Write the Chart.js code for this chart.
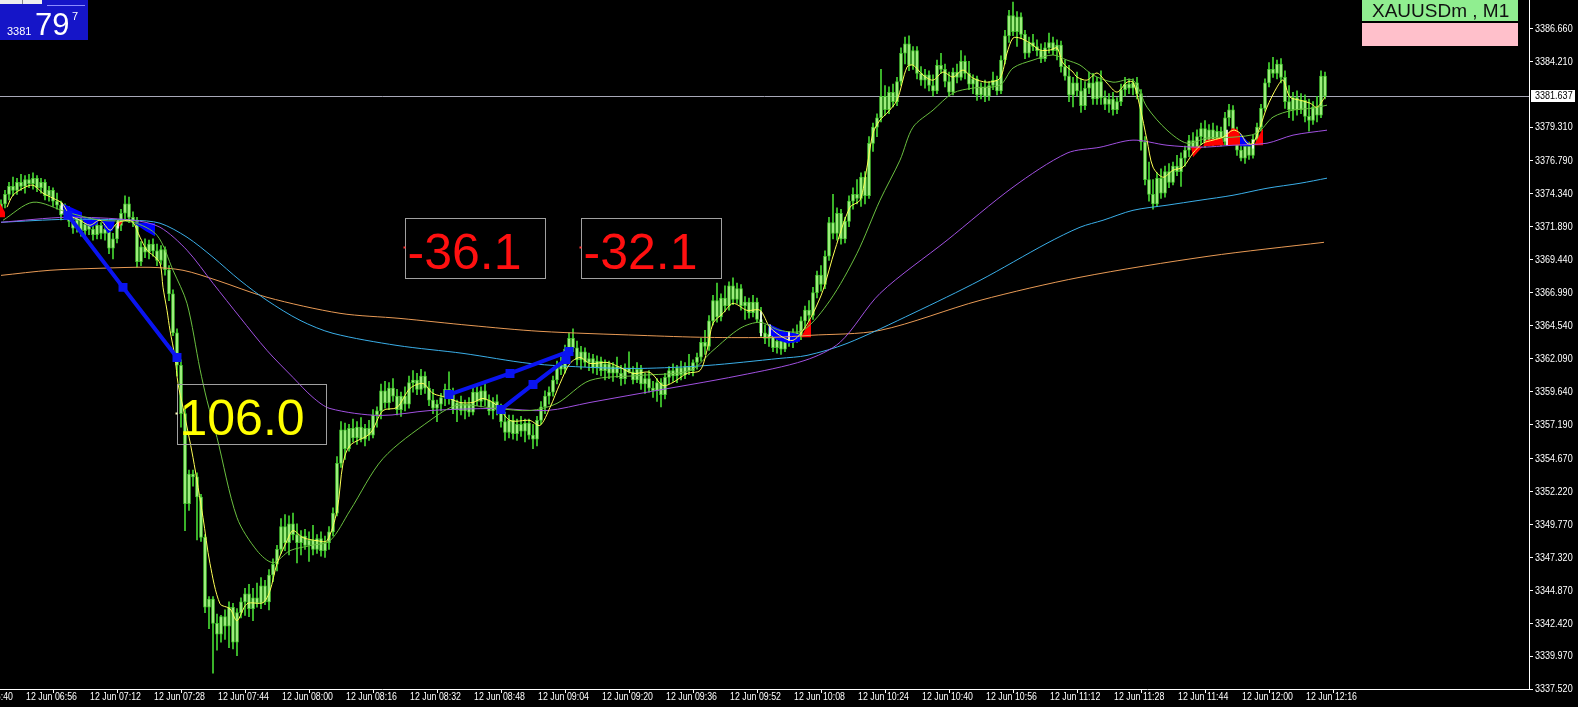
<!DOCTYPE html>
<html>
<head>
<meta charset="utf-8">
<style>
  html, body { margin: 0; padding: 0; background: #000; overflow: hidden; }
  canvas { display: block; }
</style>
<script src="https://cdn.jsdelivr.net/npm/chart.js@4"></script>
</head>
<body>
<canvas id="mt4" width="1578" height="707"></canvas>
<script>
// XAUUSDm M1, 12 Jun 06:51 .. 12:22 (one bar per minute)
const startMinute = 6 * 60 + 51;

const opens = [
  3373.1,3373.6,3374.3,3374.9,3374.6,3375.2,3374.9,3375.4,3375.1,3375.5,
  3374.8,3375.2,3374.2,3374.6,3373.8,3373.5,3372.8,3373.2,3372.3,3371.8,
  3372.4,3371.6,3372.1,3371.7,3371.3,3372.0,3371.4,3371.7,3370.3,3371.0,
  3372.0,3372.9,3373.6,3372.6,3372.3,3369.3,3370.4,3370.0,3370.6,3370.1,
  3369.4,3370.2,3368.7,3366.9,3364.0,3361.6,3358.0,3351.3,3353.5,3353.3,
  3351.8,3348.8,3343.6,3344.2,3342.4,3341.6,3342.9,3342.2,3343.6,3341.0,
  3343.2,3344.0,3344.6,3343.5,3344.3,3343.9,3345.2,3344.0,3346.0,3346.8,
  3347.9,3349.6,3348.4,3349.8,3349.0,3348.4,3348.9,3348.2,3348.6,3347.9,
  3348.7,3347.8,3348.4,3349.2,3350.6,3354.3,3356.8,3355.4,3356.9,3356.2,
  3357.0,3356.1,3356.9,3356.4,3357.9,3358.2,3359.7,3358.8,3359.9,3359.3,
  3358.3,3359.3,3358.7,3360.3,3360.5,3359.8,3360.8,3359.9,3359.0,3358.4,
  3358.7,3359.2,3359.8,3359.4,3358.3,3358.8,3358.2,3358.7,3358.1,3359.6,
  3358.9,3359.7,3359.0,3358.2,3358.9,3358.3,3357.4,3356.6,3357.5,3356.5,
  3357.2,3356.7,3357.3,3356.4,3356.1,3357.5,3358.5,3359.3,3359.6,3360.5,
  3361.6,3361.3,3362.8,3363.6,3362.9,3362.0,3362.6,3361.8,3362.1,3361.4,
  3361.9,3361.2,3361.7,3361.0,3361.5,3361.0,3360.6,3361.4,3361.1,3360.5,
  3361.3,3360.2,3360.6,3359.9,3359.7,3360.3,3359.4,3360.7,3361.2,3360.8,
  3361.4,3360.9,3361.5,3361.2,3361.8,3362.2,3363.3,3363.0,3364.9,3366.4,
  3365.2,3366.6,3366.0,3367.5,3366.5,3367.3,3366.0,3366.3,3365.5,3366.3,
  3365.0,3364.0,3363.6,3363.9,3362.9,3363.4,3362.8,3363.5,3363.3,3364.0,
  3363.7,3364.9,3365.7,3365.3,3367.0,3368.3,3367.6,3369.7,3372.2,3371.4,
  3372.9,3371.0,3372.3,3373.8,3374.3,3374.0,3375.6,3374.2,3378.1,3379.3,
  3380.0,3381.6,3380.6,3381.9,3381.2,3382.7,3384.8,3385.5,3383.9,3385.0,
  3383.3,3382.8,3383.2,3382.4,3382.0,3383.9,3383.6,3382.7,3381.9,3383.4,
  3383.0,3384.2,3383.3,3382.5,3382.9,3381.7,3382.3,3381.6,3382.4,3382.8,
  3382.0,3384.3,3386.1,3387.6,3386.4,3387.5,3386.2,3384.8,3385.6,3385.3,
  3385.0,3384.4,3385.2,3385.6,3385.0,3385.4,3383.8,3383.1,3381.7,3382.6,
  3382.0,3380.9,3382.2,3382.6,3381.4,3382.7,3381.5,3381.0,3381.4,3380.6,
  3381.2,3382.1,3382.5,3382.2,3382.6,3381.8,3378.2,3375.4,3374.3,3373.6,
  3375.5,3374.4,3376.0,3375.2,3376.4,3376.0,3377.0,3377.6,3378.3,3377.8,
  3378.6,3379.2,3378.2,3379.1,3378.3,3379.0,3378.2,3380.0,3380.6,3378.9,
  3377.6,3377.0,3377.9,3377.2,3378.4,3379.3,3380.7,3382.6,3383.6,3383.3,
  3384.0,3383.0,3381.2,3380.6,3381.5,3380.6,3381.3,3380.1,3379.8,3380.8,
  3380.2,3383.1
];
const highs = [
  3373.9,3374.6,3375.2,3375.6,3375.5,3375.8,3375.7,3375.8,3375.9,3375.7,
  3375.5,3375.4,3374.9,3374.8,3374.4,3373.8,3373.6,3373.4,3373.0,3372.8,
  3372.7,3372.5,3372.6,3372.4,3372.3,3372.2,3372.0,3371.9,3371.4,3372.3,
  3373.2,3374.2,3374.1,3373.0,3372.6,3370.8,3371.0,3370.9,3371.0,3370.6,
  3370.5,3370.4,3369.0,3367.2,3364.3,3362.0,3358.3,3353.8,3353.8,3353.6,
  3352.0,3349.0,3344.4,3344.4,3343.1,3343.0,3343.4,3344.0,3343.9,3343.5,
  3344.3,3345.0,3345.3,3345.0,3345.4,3345.8,3345.6,3346.4,3347.2,3348.2,
  3350.2,3350.5,3350.4,3350.6,3349.8,3349.3,3349.4,3349.2,3349.7,3349.0,
  3349.2,3348.9,3349.6,3351.0,3354.8,3357.4,3357.3,3357.2,3357.6,3357.4,
  3357.7,3357.2,3357.5,3358.3,3358.5,3360.2,3360.4,3360.3,3360.6,3359.8,
  3359.6,3360.0,3360.8,3361.2,3361.0,3361.3,3361.1,3360.4,3359.8,3359.0,
  3359.5,3360.2,3361.1,3359.9,3359.0,3359.3,3359.0,3359.2,3359.9,3360.1,
  3360.0,3360.2,3359.4,3359.2,3359.4,3358.7,3358.1,3357.9,3357.9,3357.6,
  3357.8,3357.6,3357.6,3357.2,3357.8,3358.9,3359.7,3360.0,3360.8,3361.9,
  3362.2,3363.1,3364.0,3364.3,3363.4,3363.0,3362.9,3362.5,3362.4,3362.3,
  3362.2,3362.0,3361.9,3361.8,3362.2,3361.6,3361.7,3362.6,3361.5,3361.8,
  3361.6,3361.0,3361.2,3360.4,3360.6,3360.6,3361.0,3361.5,3361.7,3361.6,
  3361.9,3361.8,3362.4,3362.0,3362.5,3363.6,3364.2,3365.3,3366.8,3367.7,
  3366.9,3367.5,3367.8,3368.1,3367.7,3367.6,3366.7,3366.6,3366.8,3366.6,
  3365.9,3364.6,3364.4,3364.2,3363.8,3363.7,3363.8,3364.0,3364.3,3364.6,
  3365.2,3366.0,3366.4,3367.4,3368.6,3369.0,3370.1,3372.6,3374.3,3373.3,
  3373.2,3372.6,3374.2,3374.8,3375.4,3375.9,3376.0,3378.6,3379.6,3380.3,
  3383.6,3382.4,3382.3,3382.5,3383.0,3385.2,3386.0,3386.1,3385.3,3385.3,
  3383.8,3383.6,3383.5,3383.2,3384.3,3384.8,3384.0,3383.4,3383.7,3384.0,
  3385.0,3384.6,3384.2,3383.2,3383.1,3382.6,3382.8,3382.7,3383.4,3383.1,
  3384.6,3386.5,3388.0,3388.6,3387.9,3387.8,3386.5,3386.0,3386.2,3385.8,
  3385.5,3385.6,3386.3,3386.0,3385.8,3385.7,3384.3,3383.9,3383.0,3383.4,
  3382.9,3382.7,3383.4,3383.3,3383.0,3383.5,3382.0,3381.8,3381.9,3381.5,
  3382.5,3383.0,3382.9,3382.9,3383.0,3382.1,3378.6,3376.7,3375.4,3375.9,
  3376.2,3376.4,3376.6,3376.7,3377.2,3377.4,3377.9,3378.7,3378.9,3379.1,
  3379.6,3379.8,3379.5,3379.6,3379.4,3379.3,3380.4,3381.0,3380.9,3379.3,
  3378.5,3378.3,3378.2,3378.7,3379.6,3381.0,3382.9,3384.1,3384.5,3384.3,
  3384.4,3383.5,3382.4,3381.9,3382.0,3381.8,3381.7,3381.4,3381.2,3381.6,
  3383.5,3383.4
];
const lows = [
  3372.8,3373.3,3373.9,3374.2,3374.3,3374.6,3374.4,3374.8,3374.7,3374.5,
  3374.4,3373.9,3373.8,3373.4,3373.2,3372.4,3372.5,3371.9,3371.4,3371.5,
  3371.2,3371.0,3371.3,3370.9,3371.0,3371.0,3370.9,3369.9,3369.5,3370.7,
  3371.6,3372.4,3372.2,3371.9,3368.9,3369.0,3369.6,3369.5,3369.7,3369.0,
  3369.1,3368.3,3366.4,3363.8,3360.8,3357.0,3349.3,3350.8,3352.6,3348.6,
  3348.5,3343.2,3342.0,3338.7,3340.4,3341.0,3341.2,3340.6,3340.5,3340.0,
  3342.8,3343.0,3342.9,3342.6,3343.6,3343.5,3343.8,3343.4,3345.5,3346.3,
  3347.6,3347.8,3347.5,3348.6,3346.9,3347.5,3347.9,3347.0,3347.5,3347.6,
  3347.4,3347.3,3347.9,3348.9,3350.4,3354.0,3354.6,3355.2,3355.9,3355.7,
  3355.9,3355.6,3356.0,3356.2,3357.0,3357.6,3358.4,3358.3,3358.9,3357.9,
  3357.8,3358.2,3358.4,3359.6,3359.4,3359.4,3359.5,3358.6,3358.0,3357.4,
  3358.2,3358.6,3358.7,3358.0,3357.4,3357.9,3357.6,3357.8,3357.9,3358.6,
  3358.5,3358.6,3357.9,3357.6,3357.9,3357.0,3356.0,3356.2,3356.1,3356.0,
  3356.3,3355.9,3356.1,3355.4,3355.6,3357.2,3358.0,3358.7,3359.3,3360.2,
  3360.9,3361.0,3362.3,3362.6,3361.6,3361.3,3361.5,3361.2,3361.0,3360.9,
  3360.8,3360.5,3360.6,3360.4,3360.7,3360.1,3360.2,3361.0,3360.2,3360.3,
  3359.8,3359.5,3359.6,3359.2,3358.9,3358.5,3359.1,3360.2,3360.4,3360.3,
  3360.5,3360.6,3360.9,3360.8,3361.3,3361.9,3362.4,3362.7,3364.6,3364.8,
  3364.9,3365.6,3365.7,3366.1,3366.2,3365.7,3365.0,3365.1,3365.2,3364.8,
  3363.7,3363.2,3363.0,3362.6,3362.5,3362.4,3362.6,3363.0,3362.9,3363.3,
  3363.5,3364.4,3364.9,3365.0,3366.6,3367.1,3367.3,3369.4,3371.0,3370.9,
  3370.6,3370.7,3371.9,3373.2,3373.6,3373.4,3373.6,3374.0,3377.5,3378.6,
  3379.7,3380.2,3380.3,3380.8,3380.9,3382.4,3384.0,3383.5,3383.6,3382.9,
  3382.4,3382.2,3382.0,3381.6,3381.8,3383.3,3382.3,3381.6,3381.7,3382.6,
  3382.8,3382.9,3382.1,3381.8,3381.3,3381.4,3381.2,3381.3,3382.1,3381.7,
  3381.8,3384.0,3385.6,3386.1,3385.3,3385.9,3384.4,3384.5,3385.0,3384.6,
  3384.1,3384.2,3384.8,3384.7,3384.3,3383.4,3382.8,3381.2,3380.8,3381.6,
  3380.4,3380.6,3381.8,3381.0,3381.0,3381.0,3380.6,3380.4,3380.2,3380.3,
  3380.9,3381.6,3381.8,3381.7,3381.4,3377.6,3375.0,3373.8,3373.2,3373.4,
  3374.0,3374.1,3374.8,3375.0,3375.7,3374.9,3376.4,3377.1,3377.3,3377.5,
  3378.0,3377.8,3377.9,3377.9,3378.0,3377.9,3378.0,3379.4,3378.5,3377.2,
  3376.8,3376.6,3376.9,3377.0,3378.1,3379.0,3380.5,3382.3,3383.0,3382.9,
  3382.6,3380.7,3380.0,3379.8,3380.2,3380.3,3379.7,3379.0,3379.5,3379.7,
  3380.0,3381.4
];
const closes = [
  3373.6,3374.3,3374.9,3374.6,3375.2,3374.9,3375.4,3375.1,3375.5,3374.8,
  3375.2,3374.2,3374.6,3373.8,3373.5,3372.8,3373.2,3372.3,3371.8,3372.4,
  3371.6,3372.1,3371.7,3371.3,3372.0,3371.4,3371.7,3370.3,3371.0,3372.0,
  3372.9,3373.6,3372.6,3372.3,3369.3,3370.4,3370.0,3370.6,3370.1,3369.4,
  3370.2,3368.7,3366.9,3364.0,3361.6,3358.0,3351.3,3353.5,3353.3,3351.8,
  3348.8,3343.6,3344.2,3342.4,3341.6,3342.9,3342.2,3343.6,3341.0,3343.2,
  3344.0,3344.6,3343.5,3344.3,3343.9,3345.2,3344.0,3346.0,3346.8,3347.9,
  3349.6,3348.4,3349.8,3349.0,3348.4,3348.9,3348.2,3348.6,3347.9,3348.7,
  3347.8,3348.4,3349.2,3350.6,3354.3,3356.8,3355.4,3356.9,3356.2,3357.0,
  3356.1,3356.9,3356.4,3357.9,3358.2,3359.7,3358.8,3359.9,3359.3,3358.3,
  3359.3,3358.7,3360.3,3360.5,3359.8,3360.8,3359.9,3359.0,3358.4,3358.7,
  3359.2,3359.8,3359.4,3358.3,3358.8,3358.2,3358.7,3358.1,3359.6,3358.9,
  3359.7,3359.0,3358.2,3358.9,3358.3,3357.4,3356.6,3357.5,3356.5,3357.2,
  3356.7,3357.3,3356.4,3356.1,3357.5,3358.5,3359.3,3359.6,3360.5,3361.6,
  3361.3,3362.8,3363.6,3362.9,3362.0,3362.6,3361.8,3362.1,3361.4,3361.9,
  3361.2,3361.7,3361.0,3361.5,3361.0,3360.6,3361.4,3361.1,3360.5,3361.3,
  3360.2,3360.6,3359.9,3359.7,3360.3,3359.4,3360.7,3361.2,3360.8,3361.4,
  3360.9,3361.5,3361.2,3361.8,3362.2,3363.3,3363.0,3364.9,3366.4,3365.2,
  3366.6,3366.0,3367.5,3366.5,3367.3,3366.0,3366.3,3365.5,3366.3,3365.0,
  3364.0,3363.6,3363.9,3362.9,3363.4,3362.8,3363.5,3363.3,3364.0,3363.7,
  3364.9,3365.7,3365.3,3367.0,3368.3,3367.6,3369.7,3372.2,3371.4,3372.9,
  3371.0,3372.3,3373.8,3374.3,3374.0,3375.6,3374.2,3378.1,3379.3,3380.0,
  3381.6,3380.6,3381.9,3381.2,3382.7,3384.8,3385.5,3383.9,3385.0,3383.3,
  3382.8,3383.2,3382.4,3382.0,3383.9,3383.6,3382.7,3381.9,3383.4,3383.0,
  3384.2,3383.3,3382.5,3382.9,3381.7,3382.3,3381.6,3382.4,3382.8,3382.0,
  3384.3,3386.1,3387.6,3386.4,3387.5,3386.2,3384.8,3385.6,3385.3,3385.0,
  3384.4,3385.2,3385.6,3385.0,3385.4,3383.8,3383.1,3381.7,3382.6,3382.0,
  3380.9,3382.2,3382.6,3381.4,3382.7,3381.5,3381.0,3381.4,3380.6,3381.2,
  3382.1,3382.5,3382.2,3382.6,3381.8,3378.2,3375.4,3374.3,3373.6,3375.5,
  3374.4,3376.0,3375.2,3376.4,3376.0,3377.0,3377.6,3378.3,3377.8,3378.6,
  3379.2,3378.2,3379.1,3378.3,3379.0,3378.2,3380.0,3380.6,3378.9,3377.6,
  3377.0,3377.9,3377.2,3378.4,3379.3,3380.7,3382.6,3383.6,3383.3,3384.0,
  3383.0,3381.2,3380.6,3381.5,3380.6,3381.3,3380.1,3379.8,3380.8,3380.2,
  3383.1,3381.6
];

// moving averages: [bar index, price]
const maFast = [
  [1.5,3373.35],[3,3374.24],[5.5,3374.76],[8,3374.99],[10.5,3374.39],[13,3374.02],[15.25,3373.65],
  [17.25,3372.75],[19.75,3372.38],[22.25,3372.01],[24.75,3372.38],[27.25,3371.64],[29,3372.16],
  [31.5,3372.38],[33,3372.23],[34.75,3371.12],[36.5,3370.15],[38,3369.77],[39.75,3369.18],
  [40.5,3367.39],[41.5,3365.68],[42.25,3364.19],[43.5,3362.18],[44.25,3360.24],[45.5,3358.46],
  [48,3354.73],[50.5,3350.27],[52.25,3346.84],[54.75,3343.86],[57.25,3343.49],[59,3342.60],
  [61.5,3343.86],[65.5,3343.94],[67.25,3344.83],[69,3346.84],[71.5,3348.55],[73,3349.30],
  [75.5,3348.78],[79,3348.55],[81.5,3348.55],[84,3350.79],[85.5,3354.29],[87.25,3355.63],
  [92.25,3356.52],[95.5,3358.23],[99,3358.46],[102.25,3359.87],[105.5,3360.24],[108,3359.50],
  [111.5,3359.20],[114.75,3358.83],[118,3358.83],[120.5,3359.13],[124,3358.61],[127.25,3357.49],
  [132.25,3357.49],[134.75,3357.12],[137.25,3358.46],[139.75,3360.24],[142.25,3361.73],
  [144.75,3362.18],[147.25,3361.73],[151.5,3361.81],[154.75,3361.44],[158,3360.99],[162.25,3361.06],
  [165.5,3360.09],[168,3360.32],[171.5,3360.99],[174.75,3361.21],[176.5,3362.70],[178,3364.71],
  [180.5,3365.46],[183,3366.20],[186.5,3365.68],[189.75,3365.68],[192.25,3364.41],[195.5,3363.67],
  [198,3363.45],[200.5,3364.19],[203,3365.46],[205.5,3367.17],[208.5,3370.20],[212.25,3373.35],
  [214.75,3373.87],[216.5,3376.33],[218,3378.86],[219.75,3379.83],[221.5,3380.35],[224,3381.31],
  [226.5,3383.77],[228,3383.92],[230.5,3383.18],[233,3382.80],[235.5,3383.40],[238,3383.03],
  [240.5,3383.55],[243,3382.95],[246.5,3382.65],[249.75,3382.95],[251.5,3384.81],[253,3385.93],
  [254.75,3385.93],[257.25,3385.56],[259.75,3385.04],[262.25,3385.04],[264,3385.19],[265.5,3384.07],
  [268,3383.40],[269,3383.03],[271.5,3382.80],[274,3383.33],[276.5,3382.58],[279,3381.91],
  [281.5,3382.65],[283,3382.65],[284.75,3380.79],[286.5,3378.34],[288,3376.33],[290.5,3375.58],
  [293,3376.10],[295.5,3376.33],[298,3377.37],[300.5,3378.11],[303,3378.34],[305.5,3378.56],
  [308,3379.08],[309.75,3378.86],[311.5,3378.11],[313,3378.11],[314.75,3379.30],[316.5,3380.79],
  [319,3382.28],[320.5,3382.80],[322.25,3381.54],[324.75,3381.31],[327.25,3381.09],[329,3380.79],
  [331,3381.54]
];
const maGreen = [
  [0.5,3372.38],[8,3373.72],[16.5,3372.98],[24.75,3372.38],[33,3372.23],[39,3371.26],[43,3368.66],
  [46.5,3366.20],[49.75,3361.30],[51.5,3358.98],[54,3356.22],[59,3350.27],[64,3347.81],[68,3346.92],
  [72.25,3347.81],[77.25,3348.18],[82.25,3348.55],[87.25,3350.79],[95.5,3354.66],[107.25,3357.49],
  [114,3358.61],[124,3358.38],[132.25,3358.23],[139,3358.76],[147.25,3360.47],[159.75,3360.84],
  [172.25,3361.21],[178,3362.70],[184.75,3364.34],[189.75,3364.79],[194.75,3364.19],[200.5,3364.19],
  [207.25,3366.42],[214,3369.92],[219.75,3373.87],[224.75,3376.85],[228,3379.30],[233,3380.57],
  [238,3381.84],[243,3382.21],[249.75,3382.43],[253,3383.70],[258,3384.29],[263,3384.67],
  [266.5,3384.29],[269.75,3383.92],[273,3383.18],[278,3382.65],[283,3382.80],[286.5,3380.79],
  [291.5,3379.08],[296.5,3378.11],[301.5,3378.49],[308,3378.56],[314,3378.86],[318,3380.05],
  [323,3380.57],[328,3380.72],[331.5,3380.94]
];
const maPurple = [
  [0,3372.23],[16.5,3372.60],[33,3372.38],[39.75,3371.86],[46.5,3370.15],[53,3367.69],
  [59.75,3365.16],[66.5,3362.70],[73,3360.69],[78,3359.20],[82.25,3358.38],[94.75,3357.86],
  [107.25,3358.23],[124,3358.38],[136.5,3358.23],[147.25,3358.83],[159.75,3359.50],[184.75,3360.84],
  [201,3361.96],[209.75,3363.30],[219.75,3366.94],[236.5,3370.89],[253,3374.84],[266.5,3377.37],
  [274.75,3377.81],[283,3378.34],[291.5,3377.96],[299.75,3377.81],[308,3377.96],[316.5,3378.11],
  [323,3378.71],[331.5,3379.08]
];
const maCyan = [
  [0,3372.23],[16.5,3372.45],[33,3372.38],[39.75,3372.16],[46.5,3371.12],[53,3369.63],
  [59.75,3367.91],[66.5,3366.42],[74.75,3364.94],[83,3363.97],[99,3363.07],[115.5,3362.48],
  [132.25,3361.73],[147.25,3361.44],[159.75,3361.36],[176.5,3361.58],[194.75,3362.11],
  [201.5,3362.33],[211.5,3363.22],[228,3365.46],[244.75,3367.91],[261.5,3370.67],[269.75,3371.86],
  [275.5,3372.38],[283,3373.12],[291.5,3373.50],[299.75,3373.87],[308,3374.24],[316.5,3374.76],
  [324.75,3375.13],[331.5,3375.51]
];
const maOrange = [
  [0,3368.28],[12.25,3368.66],[24.75,3368.81],[37.25,3368.88],[45.5,3368.66],[54,3367.91],
  [66.5,3366.65],[84.75,3365.46],[99.75,3365.08],[117.25,3364.56],[134.75,3364.12],[159.75,3363.82],
  [176.5,3363.67],[193,3363.67],[202.25,3363.82],[219.75,3364.19],[244.75,3366.42],[269.75,3368.14],
  [301.75,3369.70],[330.75,3370.74]
];

// crossing fills (bar index, price outline)
const patchRed = [
  [[-0.25,3373.65],[1,3372.98],[1,3372.60],[-0.25,3372.60]],
  [[29,3372.31],[30.5,3372.31],[29.25,3371.79]],
  [[200,3363.67],[202.5,3365.08],[202.5,3363.67]],
  [[297.5,3377.82],[300.5,3377.89],[298,3377.07]],
  [[300.5,3377.89],[301.25,3378.34],[305.25,3378.49],[305.75,3377.96]],
  [[306.25,3377.96],[306.75,3378.86],[307.75,3379.23],[309,3379.16],[309.75,3378.71],[309.75,3377.96]],
  [[313.25,3377.96],[315.5,3379.23],[315.5,3377.96]]
];
const patchBlue = [
  [[15.25,3373.65],[20.25,3372.98],[20.25,3372.53],[16.25,3372.53]],
  [[20.25,3372.53],[24.75,3372.53],[24,3372.08],[22.5,3371.86],[21,3372.08]],
  [[25.25,3372.38],[28.5,3372.38],[28,3371.64],[26.75,3371.41],[25.75,3371.86]],
  [[33,3372.23],[38.5,3372.16],[38.5,3371.19],[36.25,3371.56],[34,3372.01]],
  [[191.75,3364.71],[196,3364.12],[199.75,3363.89],[199.75,3363.37],[196.75,3363.22],[193.75,3363.52],[192,3363.97]],
  [[309.75,3378.86],[312.75,3377.89],[309.75,3377.89]]
];

// thin white signal ticks: bar index, from, to
const markIdx = [15.25, 29.25, 190, 192.25, 197, 306.5, 313];
const markFrom = [3372.90, 3371.79, 3363.79, 3363.79, 3363.45, 3377.96, 3377.74];
const markTo = [3373.65, 3372.38, 3365.58, 3364.61, 3364.08, 3379.08, 3378.34];

// zigzag legs: start, middle marker, end
const zigA = [[16.75,3372.75],[30.5,3367.39],[44,3362.18]];
const zigB = [[112,3359.42],[127.25,3360.99],[142,3362.62]];
const zigC = [[125,3358.31],[133,3360.17],[141.25,3362.03]];

// text boxes: left bar index, top price, caption
const boxIdx = [101, 145, 44];
const boxTop = [3372.53, 3372.53, 3360.17];
const boxText = ['-36.1', '-32.1', '106.0'];
const boxColor = ['#ff1010', '#ff1010', '#ffff00'];

const yTicks = [3337.52, 3339.97, 3342.42, 3344.87, 3347.32, 3349.77, 3352.22, 3354.67, 3357.19,
  3359.64, 3362.09, 3364.54, 3366.99, 3369.44, 3371.89, 3374.34, 3376.79, 3379.31, 3384.21, 3386.66];
const xLabelIdx = [-11, 5, 21, 37, 53, 69, 85, 101, 117, 133, 149, 165, 181, 197, 213, 229, 245, 261, 277, 293, 309, 325];
const lastPrice = 3381.637;

function barTime(i) {
  const m = startMinute + i;
  const hh = String(Math.floor(m / 60)).padStart(2, '0');
  const mm = String(m % 60).padStart(2, '0');
  return '12 Jun ' + hh + ':' + mm;
}

const axisFont = "'Liberation Sans', sans-serif";
const toXY = arr => arr.map(p => ({ x: p[0], y: p[1] }));

// narrow terminal-style text: squeeze horizontally
function narrowText(c, text, x, y, size, squeeze) {
  c.save();
  c.font = size + 'px ' + axisFont;
  c.translate(x, y);
  c.scale(squeeze, 1);
  c.fillText(text, 0, 0);
  c.restore();
}

function maLine(points, color, order) {
  return {
    type: 'line', data: toXY(points), borderColor: color, borderWidth: 1,
    pointRadius: 0, tension: 0.3, order: order
  };
}
function zigLine(points) {
  return {
    type: 'line', data: toXY(points), borderColor: '#0a14f0', borderWidth: 4,
    pointStyle: 'rect', pointRadius: 3.5, pointBackgroundColor: '#0a14f0',
    pointBorderColor: '#0a14f0', tension: 0, order: 0
  };
}

const mtOverlay = {
  id: 'mtOverlay',
  beforeDraw(chart) {
    const c = chart.ctx;
    c.save();
    c.fillStyle = '#000';
    c.fillRect(0, 0, chart.width, chart.height);
    c.restore();
  },
  beforeDatasetsDraw(chart) {
    const { x, y } = chart.scales;
    const c = chart.ctx;
    const py = Math.round(y.getPixelForValue(lastPrice)) + 0.5;
    c.save();
    c.strokeStyle = '#a8a8b8';
    c.lineWidth = 1;
    c.beginPath();
    c.moveTo(x.left, py);
    c.lineTo(x.right, py);
    c.stroke();
    c.restore();
  },
  afterDatasetDraw(chart, args) {
    if (args.index !== 1) return;
    const { x, y } = chart.scales;
    const c = chart.ctx;
    c.save();
    const fillPolys = (polys, color) => {
      c.fillStyle = color;
      polys.forEach(poly => {
        c.beginPath();
        poly.forEach(([i, v], k) => {
          const px = x.getPixelForValue(i), py = y.getPixelForValue(v);
          if (k) c.lineTo(px, py); else c.moveTo(px, py);
        });
        c.closePath();
        c.fill();
      });
    };
    fillPolys(patchBlue, '#0000ff');
    fillPolys(patchRed, '#ff0000');
    c.restore();
  },
  afterDatasetsDraw(chart) {
    const { x, y } = chart.scales;
    const c = chart.ctx;
    c.save();
    boxText.forEach((t, k) => {
      const bx = Math.round(x.getPixelForValue(boxIdx[k])) + 0.5;
      const by = Math.round(y.getPixelForValue(boxTop[k])) + 0.5;
      const bw = k === 2 ? 149 : 140;
      c.strokeStyle = '#a0a0a0';
      c.lineWidth = 1;
      c.strokeRect(bx, by, bw, 60);
      c.fillStyle = boxColor[k];
      c.font = "50px 'Liberation Sans', sans-serif";
      c.textBaseline = 'alphabetic';
      c.textAlign = 'left';
      c.fillText(t, bx + 2, by + 50);
      c.fillStyle = k === 2 ? '#ffffc0' : '#ff3030';
      c.fillRect(bx - 2, by + 28, 2, 2);
    });
    c.restore();
  },
  afterDraw(chart) {
    const { x, y } = chart.scales;
    const c = chart.ctx;
    c.save();
    c.fillStyle = '#ffffff';
    c.textAlign = 'left';
    // time labels
    c.textBaseline = 'top';
    xLabelIdx.forEach(i => {
      narrowText(c, barTime(i), x.getPixelForValue(i) + 5, 692, 10.5, 0.84);
    });
    // price labels
    c.textBaseline = 'middle';
    yTicks.forEach(v => {
      narrowText(c, v.toFixed(3), 1535, y.getPixelForValue(v) + 0.5, 10.5, 0.86);
    });
    // current price tag
    const py = Math.round(y.getPixelForValue(lastPrice));
    c.fillStyle = '#ffffff';
    c.fillRect(1531, py - 6, 44, 12);
    c.fillStyle = '#000000';
    narrowText(c, lastPrice.toFixed(3), 1535, py + 0.5, 10.5, 0.86);
    // symbol label
    c.fillStyle = '#90ee90';
    c.fillRect(1362, 0, 156, 21);
    c.fillStyle = '#ffc0cb';
    c.fillRect(1362, 23, 156, 23);
    c.fillStyle = '#111111';
    c.font = "19px 'Liberation Sans', sans-serif";
    c.textBaseline = 'alphabetic';
    c.fillText('XAUUSDm , M1', 1372, 17);
    // bid widget
    c.fillStyle = '#1515c8';
    c.fillRect(0, 0, 88, 40);
    c.fillStyle = '#eeeeee';
    c.fillRect(0, 0, 42, 4);
    c.fillStyle = '#888888';
    c.fillRect(22, 0, 1, 4);
    c.fillStyle = '#8c8cff';
    c.fillRect(47, 5, 38, 1);
    c.fillStyle = '#ffffff';
    c.font = "11px 'Liberation Sans', sans-serif";
    c.fillText('3381', 7, 35);
    c.font = "31px 'Liberation Sans', sans-serif";
    c.fillText('79', 35, 35);
    c.font = "11px 'Liberation Sans', sans-serif";
    c.fillText('7', 72, 20);
    c.restore();
  }
};

new Chart(document.getElementById('mt4'), {
  type: 'bar',
  data: {
    datasets: [
      {
        label: 'wick',
        data: highs.map((h, i) => ({ x: i, y: [lows[i], h] })),
        backgroundColor: '#46d632', barThickness: 1, grouped: false, order: 11
      },
      {
        label: 'body',
        data: opens.map((o, i) => ({ x: i, y: [o, closes[i]] })),
        backgroundColor: '#adf58c', borderColor: '#4fd636', borderWidth: 1,
        borderSkipped: false, barThickness: 3, grouped: false, order: 10
      },
      maLine(maOrange, '#e89a55', 5),
      maLine(maCyan, '#3aaee8', 4),
      maLine(maPurple, '#a050e0', 3),
      maLine(maGreen, '#6abf3f', 2),
      maLine(maFast, '#ffff55', 1),
      zigLine(zigA),
      zigLine(zigB),
      zigLine(zigC),
      {
        label: 'marks',
        data: markIdx.map((i, k) => ({ x: i, y: [markFrom[k], markTo[k]] })),
        backgroundColor: '#ffffff', barThickness: 1, grouped: false, order: 6
      }
    ]
  },
  options: {
    responsive: false,
    animation: false,
    devicePixelRatio: 1,
    layout: { padding: 0, autoPadding: false },
    plugins: { legend: { display: false }, tooltip: { enabled: false } },
    scales: {
      x: {
        type: 'linear', min: -0.25, max: 382, offset: false,
        grid: { drawOnChartArea: false, drawTicks: true, tickLength: 4, tickColor: '#ffffff' },
        border: { display: true, color: '#ffffff' },
        ticks: { display: false },
        afterBuildTicks: s => { s.ticks = xLabelIdx.filter(v => v >= 0).map(v => ({ value: v })); },
        afterFit: s => { s.height = 18; s.paddingLeft = 0; s.paddingRight = 0; }
      },
      y: {
        position: 'right', min: 3337.52, max: 3388.76,
        grid: { drawOnChartArea: false, drawTicks: true, tickLength: 4, tickColor: '#ffffff' },
        border: { display: true, color: '#ffffff' },
        ticks: { display: false },
        afterBuildTicks: s => { s.ticks = yTicks.map(v => ({ value: v })); },
        afterFit: s => { s.width = 49; s.paddingTop = 0; s.paddingBottom = 0; }
      }
    }
  },
  plugins: [mtOverlay]
});
</script>
</body>
</html>
